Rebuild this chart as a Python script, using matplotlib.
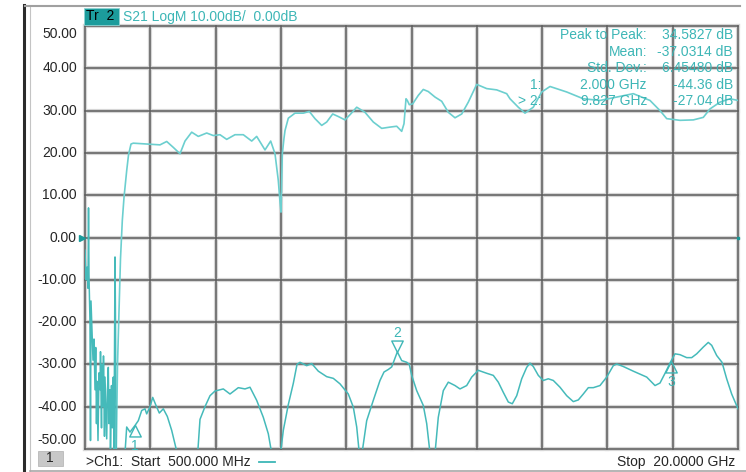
import matplotlib
matplotlib.use('Agg')
import matplotlib.pyplot as plt
from matplotlib.transforms import offset_copy
from matplotlib.path import Path
from matplotlib.lines import Line2D
from matplotlib.patches import Rectangle
import numpy as np

plt.rcParams['font.family'] = ['Liberation Sans', 'DejaVu Sans']

# ---------------- data ----------------
f_start, f_stop = 0.5, 20.0          # GHz
db_top, db_bottom = 50.0, -50.0
y_tick_values = [50, 40, 30, 20, 10, 0, -10, -20, -30, -40, -50]
y_tick_labels = ["50.00", "40.00", "30.00", "20.00", "10.00", "0.00",
                 "-10.00", "-20.00", "-30.00", "-40.00", "-50.00"]

upper_freq = [1.426, 1.471, 1.524, 1.560, 1.614, 1.665, 1.745, 1.799, 1.874, 1.942,
              2.342, 2.740, 2.940, 3.137, 3.337, 3.486, 3.686, 3.883, 4.134, 4.331,
              4.531, 4.731, 4.979, 5.227, 5.478, 5.627, 5.875, 6.045, 6.174, 6.272,
              6.323, 6.353, 6.392, 6.443, 6.473, 6.571, 6.771, 7.019, 7.198, 7.368,
              7.568, 7.718, 7.897, 8.064, 8.264, 8.434, 8.614, 8.861, 9.109, 9.360,
              9.608, 9.808, 9.957, 10.026, 10.086, 10.125, 10.184, 10.286, 10.453, 10.602,
              10.752, 10.952, 11.152, 11.349, 11.549, 11.749, 11.946, 12.197, 12.496, 12.794,
              13.093, 13.191, 13.439, 13.639, 13.887, 14.138, 14.386, 14.885, 15.380, 15.879,
              16.378, 16.873, 17.372, 17.671, 17.871, 18.268, 18.665, 18.964, 19.164, 19.462,
              19.761, 20.000]
upper_db = [-55.0, -30.0, -15.0, -5.0, 4.0, 9.5, 15.8, 19.5, 22.1, 22.3,
            22.1, 21.9, 22.7, 21.3, 19.8, 22.8, 24.9, 23.9, 24.7, 24.1,
            24.3, 23.2, 24.3, 24.3, 22.8, 23.9, 20.7, 22.8, 19.8, 13.5,
            8.5, 6.0, 19.8, 23.5, 25.3, 28.2, 29.4, 29.4, 29.8, 28.1,
            26.5, 27.3, 29.2, 28.6, 27.8, 29.2, 30.8, 29.6, 27.3, 25.8,
            26.1, 26.3, 25.1, 26.9, 32.8, 32.4, 31.4, 31.6, 33.6, 35.0,
            34.5, 33.2, 32.2, 29.6, 28.3, 29.2, 32.0, 36.2, 35.2, 34.9,
            34.0, 32.8, 30.8, 29.4, 30.8, 34.4, 35.7, 34.4, 32.8, 32.4,
            33.2, 34.0, 32.4, 30.0, 28.1, 27.7, 27.8, 28.4, 30.4, 32.0,
            32.8, 32.4]

lower_freq = [0.500, 0.530, 0.560, 0.590, 0.605, 0.619, 0.649, 0.664, 0.679, 0.709,
              0.739, 0.769, 0.799, 0.820, 0.843, 0.858, 0.888, 0.918, 0.948, 0.963,
              0.993, 1.008, 1.038, 1.052, 1.082, 1.097, 1.127, 1.148, 1.172, 1.196,
              1.216, 1.247, 1.261, 1.291, 1.315, 1.345, 1.366, 1.396, 1.411, 1.426,
              1.447, 1.545, 1.694, 1.745, 1.844, 2.000, 2.092, 2.193, 2.292, 2.342,
              2.441, 2.522, 2.620, 2.719, 2.838, 2.958, 3.089, 3.238, 3.388, 3.836,
              3.874, 3.934, 4.083, 4.233, 4.382, 4.630, 4.830, 5.078, 5.278, 5.427,
              5.627, 5.824, 5.974, 6.075, 6.323, 6.422, 6.571, 6.720, 6.831, 6.920,
              7.120, 7.270, 7.467, 7.718, 7.915, 8.115, 8.363, 8.512, 8.614, 8.691,
              8.772, 8.912, 9.109, 9.309, 9.429, 9.557, 9.659, 9.827, 9.957, 10.107,
              10.184, 10.256, 10.405, 10.602, 10.704, 10.803, 10.952, 11.050, 11.200, 11.349,
              11.549, 11.698, 11.898, 12.048, 12.245, 12.496, 12.693, 12.842, 12.991, 13.141,
              13.260, 13.392, 13.541, 13.690, 13.789, 13.887, 14.037, 14.186, 14.335, 14.485,
              14.685, 14.885, 15.082, 15.231, 15.380, 15.530, 15.679, 15.879, 16.079, 16.276,
              16.378, 16.575, 16.873, 17.274, 17.522, 17.671, 17.821, 17.994, 18.119, 18.268,
              18.468, 18.617, 18.767, 18.964, 19.113, 19.215, 19.364, 19.522, 19.662, 19.811,
              20.000]
lower_db = [-3, -10, -7, -12, 7, -9, -20, -48, -15, -22,
            -29, -24, -36, -26, -44, -34, -48, -32, -36, -27,
            -45, -30, -40, -28, -47, -33, -42, -47.6, -36, -30.7,
            -44, -36, -50, -35, -45, -33, -50, -4.6, -20, -50,
            -52, -52, -51, -44.8, -46.0, -44.36, -43.3, -40.9, -40.5, -41.7,
            -40.0, -37.8, -39.7, -41.5, -40.5, -42.3, -45.6, -50.5, -52, -52,
            -50, -43, -40, -37.4, -36.3, -35.8, -37.0, -35.5, -35.8, -35.4,
            -38.5, -42.5, -46.4, -51, -52, -45.6, -39.5, -34.5, -30.0, -29.5,
            -30.3, -29.8, -31.6, -32.9, -33.3, -34.6, -37.0, -40.1, -44.8, -51,
            -51, -43.3, -38.5, -33.8, -31.8, -31.2, -30.6, -27.04, -29.1, -29.5,
            -30.0, -32.6, -36.2, -39.7, -44.0, -51, -51, -42.5, -36.2, -34.2,
            -35.0, -35.8, -35.0, -33.0, -31.4, -32.1, -32.6, -34.2, -36.6, -38.9,
            -39.3, -37.4, -33.4, -30.7, -29.7, -30.5, -32.6, -33.8, -33.4, -33.8,
            -35.4, -37.4, -38.8, -38.4, -37.0, -35.5, -35.5, -35.0, -33.0, -30.3,
            -29.9, -30.5, -31.6, -33.0, -35.0, -34.4, -32.1, -29.3, -27.5, -27.7,
            -28.4, -28.4, -27.5, -25.9, -24.8, -25.5, -27.9, -29.5, -33.4, -37.0,
            -40.5]

marker_freq = [2.000, 9.827, 17.994]
marker_db = [-44.36, -27.04, -29.3]
marker_names = ["1", "2", "3"]
marker_up = [True, False, True]

stats_names = ["Peak to Peak:", "Mean:", "Std. Dev.:"]
stats_values = ["34.5827 dB", "-37.0314 dB", "6.45480 dB"]
mk_table_ids = ["1:", "> 2:"]
mk_table_freq = ["2.000 GHz", "9.827 GHz"]
mk_table_val = ["-44.36 dB", "-27.04 dB"]

header_tr = "Tr  2"
header_text = "S21 LogM 10.00dB/  0.00dB"
footer_left = ">Ch1:  Start  500.000 MHz"
footer_right = "Stop  20.0000 GHz"
channel_label = "1"

# ---------------- style ----------------
W, H = 746, 472
TEAL = '#3db6b6'
UPPER = '#6ccfcf'
LOWER = '#45baba'
GRID = '#5c5c5c'
HALO = '#d6d6d6'
TXT = '#262626'

fig = plt.figure(figsize=(W / 100, H / 100), dpi=100)
fig.patch.set_facecolor('white')

def fx(x):
    return x / W

def fy(y):
    return 1 - y / H

L, R, T, B = 85, 738, 26, 449
ax = fig.add_axes([fx(L), fy(B), (R - L) / W, (B - T) / H])
ax.set_xlim(f_start, f_stop)
ax.set_ylim(db_bottom, db_top)
ax.set_xticks([])
ax.set_yticks([])
for s in ax.spines.values():
    s.set_visible(False)

# grid (10 divisions each way)
for xv in np.linspace(f_start, f_stop, 11):
    ax.axvline(xv, color=HALO, lw=3.0, zorder=1, clip_on=False)
for yv in y_tick_values:
    ax.axhline(yv, color=HALO, lw=3.0, zorder=1, clip_on=False)
for xv in np.linspace(f_start, f_stop, 11):
    ax.axvline(xv, color=GRID, lw=1.1, zorder=1.5, clip_on=False)
for yv in y_tick_values:
    ax.axhline(yv, color=GRID, lw=1.1, zorder=1.5, clip_on=False)

# traces
ax.plot(upper_freq, upper_db, color=UPPER, lw=1.2, zorder=3)
ax.plot(lower_freq, lower_db, color=LOWER, lw=1.1, zorder=3)

# y labels
for v, lab in zip(y_tick_values, y_tick_labels):
    dy = 0
    if v == y_tick_values[0]:
        dy = -8
    elif v == y_tick_values[-1]:
        dy = 9
    tr = offset_copy(ax.get_yaxis_transform(), fig=fig, x=-8, y=dy, units='dots')
    ax.text(0, v, lab, transform=tr, ha='right', va='center', fontsize=10, color=TXT)

# markers
tri_up = Path([(0, 0), (-0.5, -1), (0.5, -1), (0, 0)],
              [Path.MOVETO, Path.LINETO, Path.LINETO, Path.CLOSEPOLY])
tri_down = Path([(0, 0), (-0.5, 1), (0.5, 1), (0, 0)],
                [Path.MOVETO, Path.LINETO, Path.LINETO, Path.CLOSEPOLY])
for fq, db, name, up in zip(marker_freq, marker_db, marker_names, marker_up):
    ax.plot([fq], [db], marker=tri_up if up else tri_down, ms=16.5,
            mfc='none', mec=TEAL, mew=1.0, ls='none', zorder=5, clip_on=False)
    off = -21 if up else 19
    tr = offset_copy(ax.transData, fig=fig, x=0, y=off, units='dots')
    ax.text(fq, db, name, transform=tr, ha='center', va='center',
            fontsize=10, color=TEAL, zorder=5)

# reference level markers
trl = offset_copy(ax.transData, fig=fig, x=-3, y=0, units='dots')
ax.plot([f_start], [0], marker='>', ms=5, color='#1a9a9a', transform=trl,
        clip_on=False, zorder=6)
ax.plot([f_stop], [0], marker='s', ms=2, color='#1a9a9a', clip_on=False, zorder=6)

# stats block
stat_rows_y = [35, 52, 68]
for yy, nm, val in zip(stat_rows_y, stats_names, stats_values):
    fig.text(fx(647), fy(yy), nm, ha='right', va='center', fontsize=10, color=TEAL, zorder=10)
    fig.text(fx(733), fy(yy), val, ha='right', va='center', fontsize=10, color=TEAL, zorder=10)
mk_rows_y = [85, 101]
for yy, mid, mf, mv in zip(mk_rows_y, mk_table_ids, mk_table_freq, mk_table_val):
    fig.text(fx(541), fy(yy), mid, ha='right', va='center', fontsize=10, color=TEAL, zorder=10)
    fig.text(fx(647), fy(yy), mf, ha='right', va='center', fontsize=10, color=TEAL, zorder=10)
    fig.text(fx(733), fy(yy), mv, ha='right', va='center', fontsize=10, color=TEAL, zorder=10)

# header
fig.patches.append(Rectangle((fx(83.5), fy(24.5)), 35 / W, 16.5 / H,
                             transform=fig.transFigure, facecolor='#1c9c9c',
                             edgecolor='#8fd3d3', lw=0.6))
fig.text(fx(86), fy(16.5), header_tr, ha='left', va='center', fontsize=10, color='black')
fig.text(fx(123), fy(16.5), header_text, ha='left', va='center', fontsize=10, color=TEAL)

# footer
fig.patches.append(Rectangle((fx(37.5), fy(465.5)), 25 / W, 15 / H,
                             transform=fig.transFigure, facecolor='#c8c8c8',
                             edgecolor='#b0b0b0', lw=0.5))
fig.text(fx(50), fy(458.5), channel_label, ha='center', va='center', fontsize=10, color=TXT)
fig.text(fx(86), fy(462), footer_left, ha='left', va='center', fontsize=10, color=TXT)
fig.lines.append(Line2D([fx(259), fx(275)], [fy(462), fy(462)], transform=fig.transFigure,
                        color=TEAL, lw=1.3))
fig.text(fx(735), fy(462), footer_right, ha='right', va='center', fontsize=10, color=TXT)

# outer frame
fig.lines.append(Line2D([fx(24), fx(24)], [fy(5), fy(472)], transform=fig.transFigure,
                        color='#2b2b2b', lw=2.2))
fig.lines.append(Line2D([fx(30), fx(30)], [fy(6), fy(471)], transform=fig.transFigure,
                        color='#c4c4c4', lw=0.8))
fig.lines.append(Line2D([fx(25), fx(740)], [fy(6), fy(6)], transform=fig.transFigure,
                        color='#a0a0a0', lw=1.5))
fig.lines.append(Line2D([fx(30), fx(746)], [fy(470.5), fy(470.5)], transform=fig.transFigure,
                        color='#a8a8a8', lw=1.2))

fig.savefig('out.png', dpi=100)
